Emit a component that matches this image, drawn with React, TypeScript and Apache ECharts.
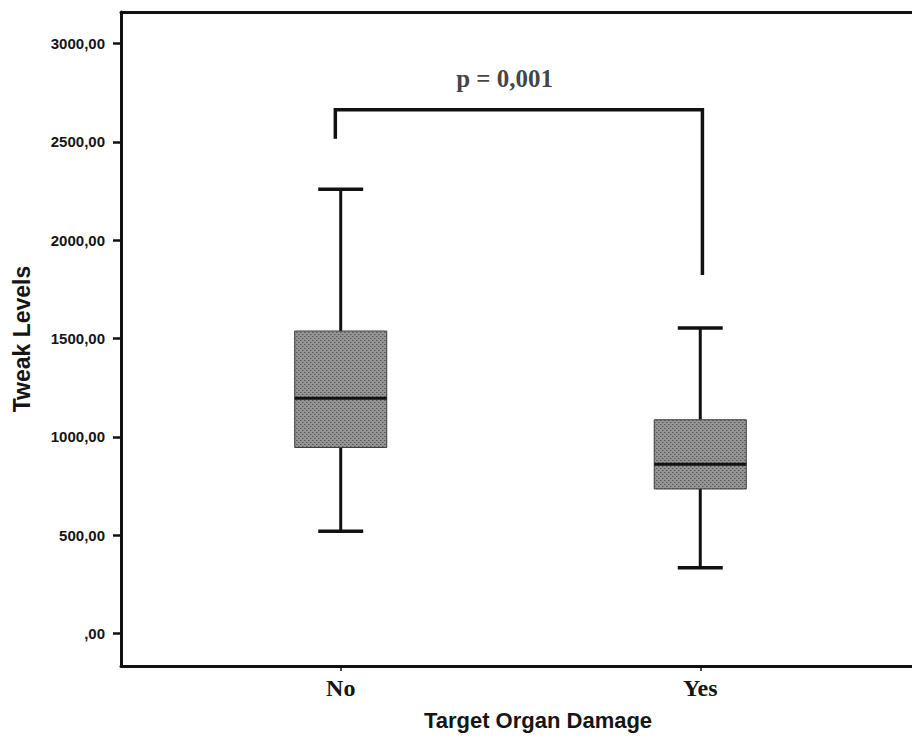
import React, { useEffect, useRef } from "react";
import * as echarts from "echarts";

// ---- data ----
const categories = ["No", "Yes"];
const whiskerLow = [520, 335];
const q1 = [946, 735];
const median = [1196, 861];
const q3 = [1538, 1087];
const whiskerHigh = [2259, 1554];
const yTickValues = [0, 500, 1000, 1500, 2000, 2500, 3000];
// significance bracket: x positions (category units) and heights
const bracketX = [-0.015, 1.006];
const bracketLeftBottom = 2515;
const bracketTop = 2663;
const bracketRightBottom = 1823;
const pLabel = "p = 0,001";
const pLabelPos = [0.456, 2820];

const BOX_HALF = 0.128;
const CAP_HALF = 0.0625;

export default function App() {
  const ref = useRef<HTMLDivElement>(null);
  useEffect(() => {
    document.body.style.margin = "0";
    if (!ref.current) return;
    const chart = echarts.init(ref.current, undefined, { renderer: "svg" });

    const cv = document.createElement("canvas");
    cv.width = 4;
    cv.height = 4;
    const ctx = cv.getContext("2d")!;
    ctx.fillStyle = "#959595";
    ctx.fillRect(0, 0, 4, 4);
    ctx.fillStyle = "#585858";
    ctx.fillRect(0, 0, 1, 1);
    ctx.fillRect(2, 2, 1, 1);
    ctx.fillStyle = "#767676";
    ctx.fillRect(1, 0, 1, 1);
    ctx.fillRect(3, 2, 1, 1);
    const pattern: any = { image: cv, repeat: "repeat" };

    const boxData = categories.map((_, i) => [
      i,
      whiskerLow[i],
      q1[i],
      median[i],
      q3[i],
      whiskerHigh[i],
    ]);

    const axisColor = "#111";
    const labelColor = "#151515";

    chart.setOption({
      animation: false,
      backgroundColor: "#fff",
      grid: { left: 121, right: 0, top: 12, bottom: 72 },
      xAxis: [
        {
          type: "value",
          min: -0.6111,
          max: 1.5889,
          splitLine: { show: false },
          axisLine: { show: true, onZero: false, lineStyle: { color: axisColor, width: 3 } },
          axisTick: {
            show: true,
            customValues: [0, 1],
            length: 5,
            lineStyle: { color: axisColor, width: 1.5 },
          },
          axisLabel: {
            customValues: [0, 1],
            formatter: (v: number) => categories[Math.round(v)] ?? "",
            margin: 10,
            fontSize: 24,
            fontWeight: "bold",
            fontFamily: "Liberation Serif",
            color: labelColor,
          },
        },
        {
          type: "value",
          position: "top",
          min: -0.6111,
          max: 1.5889,
          splitLine: { show: false },
          axisLine: { show: true, onZero: false, lineStyle: { color: axisColor, width: 3 } },
          axisTick: { show: false },
          axisLabel: { show: false },
        },
      ],
      yAxis: {
        type: "value",
        min: -165,
        max: 3160,
        name: "Tweak Levels",
        nameLocation: "middle",
        nameGap: 88,
        nameTextStyle: {
          fontSize: 23,
          fontWeight: "bold",
          fontFamily: "Liberation Sans",
          color: labelColor,
        },
        splitLine: { show: false },
        axisLine: { show: true, onZero: false, lineStyle: { color: axisColor, width: 3 } },
        axisTick: {
          show: true,
          customValues: yTickValues,
          length: 8,
          lineStyle: { color: axisColor, width: 2.5 },
        },
        axisLabel: {
          customValues: yTickValues,
          margin: 16,
          formatter: (v: number) =>
            v === 0 ? ",00" : v.toFixed(2).replace(".", ","),
          fontSize: 15,
          fontWeight: "bold",
          fontFamily: "Liberation Sans",
          color: labelColor,
        },
      },
      graphic: [
        {
          type: "text",
          x: 538,
          y: 720,
          style: {
            text: "Target Organ Damage",
            fontSize: 22,
            fontWeight: "bold",
            fontFamily: "Liberation Sans",
            fill: labelColor,
            align: "center",
            verticalAlign: "middle",
          },
        },
      ],
      series: [
        {
          type: "custom",
          data: boxData,
          encode: { x: 0, y: [1, 2, 3, 4, 5] },
          renderItem: (params: any, api: any) => {
            const x = api.value(0);
            const lo = api.coord([x, api.value(1)]);
            const bq1 = api.coord([x + BOX_HALF, api.value(2)]);
            const bq3 = api.coord([x - BOX_HALF, api.value(4)]);
            const hi = api.coord([x, api.value(5)]);
            const medL = api.coord([x - BOX_HALF, api.value(3)]);
            const medR = api.coord([x + BOX_HALF, api.value(3)]);
            const capL = api.coord([x - CAP_HALF, 0])[0];
            const capR = api.coord([x + CAP_HALF, 0])[0];
            const ls = { stroke: "#111", lineWidth: 3 };
            return {
              type: "group",
              children: [
                {
                  type: "line",
                  shape: { x1: hi[0], y1: hi[1], x2: hi[0], y2: bq3[1] },
                  style: ls,
                },
                {
                  type: "line",
                  shape: { x1: lo[0], y1: lo[1], x2: lo[0], y2: bq1[1] },
                  style: ls,
                },
                {
                  type: "line",
                  shape: { x1: capL, y1: hi[1], x2: capR, y2: hi[1] },
                  style: { stroke: "#111", lineWidth: 3.5 },
                },
                {
                  type: "line",
                  shape: { x1: capL, y1: lo[1], x2: capR, y2: lo[1] },
                  style: { stroke: "#111", lineWidth: 3.5 },
                },
                {
                  type: "rect",
                  shape: {
                    x: bq3[0],
                    y: bq3[1],
                    width: bq1[0] - bq3[0],
                    height: bq1[1] - bq3[1],
                  },
                  style: { fill: pattern, stroke: "#3c3c3c", lineWidth: 1 },
                },
                {
                  type: "line",
                  shape: { x1: medL[0], y1: medL[1], x2: medR[0], y2: medR[1] },
                  style: { stroke: "#111", lineWidth: 3 },
                },
              ],
            };
          },
        },
        {
          type: "line",
          data: [
            [bracketX[0], bracketLeftBottom],
            [bracketX[0], bracketTop],
            [bracketX[1], bracketTop],
            [bracketX[1], bracketRightBottom],
          ],
          showSymbol: false,
          symbol: "none",
          silent: true,
          lineStyle: { color: "#111", width: 3.5, join: "miter" },
        },
        {
          type: "scatter",
          data: [pLabelPos],
          symbolSize: 0,
          silent: true,
          label: {
            show: true,
            position: "inside",
            formatter: pLabel,
            fontSize: 25,
            fontWeight: "bold",
            fontFamily: "Liberation Serif",
            color: "#111",
          },
        },
      ],
    });
    return () => chart.dispose();
  }, []);
  return <div ref={ref} style={{ width: 912, height: 738 }} />;
}
